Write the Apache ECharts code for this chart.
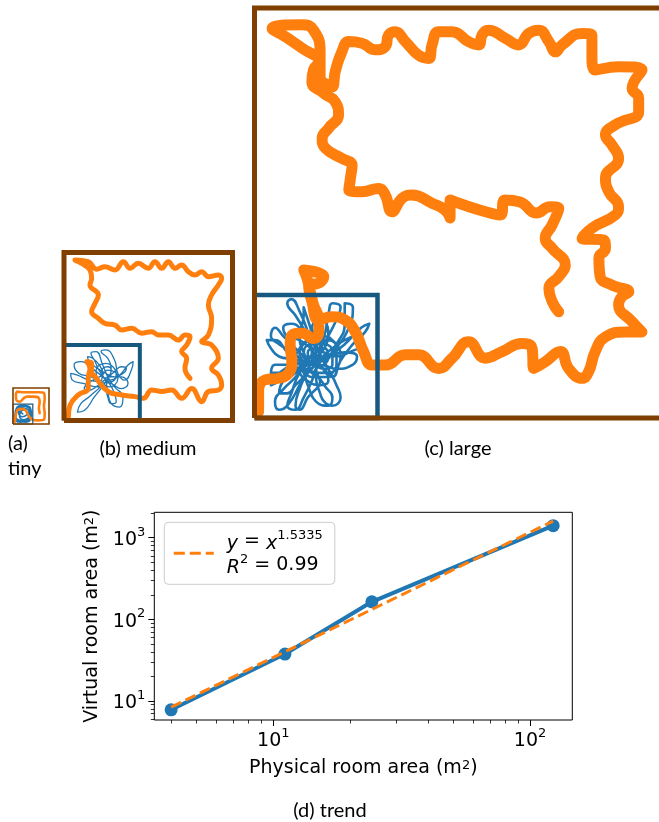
<!DOCTYPE html>
<html><head><meta charset="utf-8">
<script src="https://cdn.jsdelivr.net/npm/echarts@6/dist/echarts.min.js"></script>
<style>html,body{margin:0;padding:0;background:#fff}#c{width:659px;height:822px}</style>
</head><body><div id="c"></div>
<script>
// ---- room panels: coordinates in % of the virtual room side (0..100) ----
const roomCorners = [[0,0],[100,0],[100,100],[0,100],[0,0]];
const physicalSide = {large: 30, medium: 45, tiny: 55}; // physical room side, % of virtual side

const largeOrange = [[1.0,1.5],[1.0,6.4],[2.6,9.3],[5.9,9.7],[8.3,10.9],[9.1,13.7],[8.7,17.8],[9.1,20.2],[11.6,20.7],[14.4,19.4],[15.7,21.0],[15.7,23.9],[14.4,27.6],[13.6,30.8],[12.8,34.1],[12.0,36.1],[16.9,34.5],[15.7,32.9],[13.2,32.4],[14.0,28.4],[15.7,23.9],[18.9,24.7],[22.1,23.9],[24.6,21.0],[26.6,16.2],[28.7,12.9],[31.9,12.9],[36.8,15.4],[40.0,15.4],[44.9,12.1],[48.2,14.6],[52.2,18.6],[56.3,14.6],[60.4,16.2],[65.2,18.2],[67.7,17.0],[68.1,12.1],[70.9,13.7],[74.6,16.2],[76.6,12.1],[79.9,9.7],[81.5,11.3],[83.1,16.2],[85.6,19.8],[90.4,21.0],[94.5,21.0],[92.1,23.5],[88.8,27.6],[89.6,29.6],[91.3,30.8],[87.2,32.4],[84.3,34.5],[84.0,39.0],[85.6,41.4],[85.2,43.4],[79.9,43.8],[82.3,46.3],[88.0,49.5],[88.8,51.5],[86.4,55.2],[85.6,58.5],[88.8,63.3],[87.2,66.6],[85.6,69.0],[88.0,71.5],[93.7,74.7],[93.7,78.0],[92.1,80.4],[94.5,84.9],[88.8,85.7],[83.1,84.9],[82.3,88.5],[82.3,93.4],[79.9,93.8],[75.0,91.0],[73.4,89.3],[71.8,91.8],[69.3,94.6],[66.9,93.8],[64.4,91.0],[61.2,92.6],[57.1,94.6],[55.5,93.4],[54.7,91.0],[52.2,91.8],[48.2,94.2],[44.9,94.2],[43.3,91.0],[42.5,87.7],[40.0,88.5],[36.8,91.8],[34.3,94.2],[32.7,93.4],[31.9,90.6],[29.5,89.8],[26.2,91.4],[23.0,91.8],[21.3,89.3],[19.7,84.5],[18.9,80.8],[17.7,81.2],[16.0,83.2],[16.0,89.3],[14.4,94.6],[11.6,95.9],[4.3,95.0],[7.5,93.0],[11.6,90.2],[15.7,86.9],[14.4,84.9],[14.0,82.0],[16.9,79.2],[19.7,77.1],[20.5,73.9],[18.1,70.7],[16.5,68.2],[17.3,65.8],[21.3,63.3],[23.8,61.7],[23.4,58.5],[23.0,55.6],[26.2,55.2],[30.3,56.0],[31.9,54.4],[33.5,50.3],[36.0,53.6],[38.4,54.4],[43.3,52.4],[46.5,50.7],[47.7,48.8],[47.7,53.2],[50.9,52.0],[55.7,50.5],[59.9,49.5],[61.1,53.2],[64.8,52.7],[68.7,50.0],[72.1,51.5],[74.2,51.1],[72.6,47.1],[70.9,43.8],[72.6,41.4],[75.8,37.3],[74.2,34.5],[71.8,31.6],[72.6,28.4],[74.2,25.9]];

const largeBlue = [[13,14],[10,17],[7,20],[5,22],[4,20],[6,18],[9,16],[12,13],[10,10],[7,7],[5,4],[6,2],[8,3],[11,8],[13,12],[15,16],[13,20],[10,25],[8,28],[9,29],[11,26],[13,21],[14,17],[16,13],[19,10],[21,14],[24,18],[27,21],[28,23],[26,22],[22,18],[18,15],[14,13],[12,16],[11,20],[12,25],[12,27],[13,24],[15,18],[17,14],[20,18],[22,23],[22,28],[24,27],[23,22],[19,16],[15,12],[17,8],[19,5],[18,3],[15,4],[13,8],[12,11],[10,14],[6,15],[4,17],[3,19],[5,19],[8,16],[11,13],[14,11],[16,9],[13,5],[11,2],[10,3],[11,7],[13,11],[16,13],[20,12],[24,13],[25,15],[22,16],[17,15],[13,15],[9,13],[5,10],[4,8],[6,9],[9,11],[12,13],[15,14],[16,18],[14,22],[16,24],[18,21],[17,17],[14,14],[11,11],[9,6],[8,3],[10,2],[12,5],[14,9],[15,12],
  [17,13],[18,15],[17,17],[15,17],[14,15],[15,13],[17,12],[19,13],[19,16],[17,18],[14,18],[12,16],[13,13],[15,11],[18,11],[20,13],[20,17],[18,19],[15,19],[12,18],[11,15],[12,12],[14,10],[17,10],[19,11],[21,15],[19,19],[16,20],[13,19],[11,17],[10,14],[11,11],[13,9],[16,8],[18,9],[17,12],[14,13],[13,16],[15,17],[16,15],[14,12],[12,10],[10,8],[8,6],[6,6],[7,9],[10,11],[12,13],[14,16],[13,19],[11,22],[9,23],[7,22],[8,20],[11,19],[14,17],[17,16],[20,15],[23,16],[26,18],[25,20],[22,19],[19,17],[16,14],[15,10],[16,6],[17,4],[19,3],[21,5],[20,8],[18,12],[16,16],[18,20],[20,24],[21,27],[19,28],[18,25],[17,20],[15,16],[12,14],[8,13],[5,13],[4,11],[6,11],[10,13],[13,14]];

const mediumOrange = [[2.6,2.3],[3.6,9.2],[8.5,15.2],[14.4,19.1],[14.4,25.1],[15.4,31.1],[13.5,35.0],[16.4,34.0],[16.4,29.1],[18.4,26.1],[26.3,17.2],[34.2,15.2],[42.1,14.2],[47.1,13.2],[52.0,18.2],[58.0,17.2],[63.9,18.2],[69.8,13.2],[75.8,19.1],[81.7,11.2],[85.7,17.2],[91.6,18.2],[93.6,21.2],[91.6,27.1],[87.6,31.1],[91.6,37.0],[87.6,45.0],[81.7,47.0],[85.7,50.9],[87.6,60.8],[85.7,68.8],[87.6,74.7],[91.6,80.7],[93.6,84.6],[91.6,86.6],[85.7,85.6],[81.7,88.6],[77.7,86.6],[73.8,88.6],[69.8,92.6],[65.9,90.6],[61.9,94.5],[58.0,90.6],[54.0,94.5],[50.0,90.6],[44.1,93.6],[39.2,90.6],[35.2,94.5],[30.3,89.6],[24.3,91.5],[19.4,90.1],[14.4,94.5],[6.5,95.5],[10.5,93.5],[15.4,89.6],[16.4,84.6],[15.4,80.7],[20.4,74.7],[18.4,69.7],[16.4,64.8],[20.4,60.8],[24.3,57.8],[30.3,56.8],[34.2,53.9],[40.2,54.9],[46.1,51.9],[52.0,52.9],[56.0,50.9],[61.9,50.9],[67.9,47.9],[71.8,50.9],[74.8,49.9],[72.8,44.9],[69.8,41.0],[72.8,37.0],[71.8,31.1],[74.8,25.1]];

const mediumBlue = [[24,25],[18,30],[10,35],[6,33],[9,28],[16,26],[22,22],[16,15],[10,10],[8,5],[12,6],[18,14],[24,22],[28,30],[26,37],[22,41],[25,42],[30,36],[32,28],[36,24],[40,30],[41,35],[38,33],[33,27],[27,24],[22,28],[18,36],[16,40],[19,41],[23,33],[26,26],[30,20],[35,14],[33,8],[28,10],[26,17],[24,24],[20,20],[12,22],[5,24],[4,28],[8,27],[15,24],[22,23],[28,22],[34,19],[38,22],[34,26],[28,26],[24,25],
  [27,27],[28,30],[26,32],[23,31],[22,28],[24,25],[27,23],[30,24],[31,28],[29,32],[25,34],[21,33],[19,29],[20,25],[23,22],[27,20],[30,21],[32,25],[30,29],[26,30],[23,27],[22,23],[19,20],[15,18],[12,19],[14,22],[19,25],[23,28],[21,33],[17,37],[14,38],[15,35],[20,31],[25,28],[30,26],[35,28],[37,31],[34,32],[30,29],[26,25],[25,20],[26,14],[28,10],[31,11],[30,16],[27,22],[24,25]];

const tinyOrange = [[5,6],[8,25],[12,38],[22,42],[35,38],[45,20],[55,12],[70,10],[86,12],[88,30],[86,50],[88,70],[86,86],[70,88],[50,88],[30,88],[12,90],[8,80],[10,65],[20,62],[30,72],[40,76],[55,76],[70,74],[74,60],[72,45],[74,30]];

const tinyBlue = [[27,28],[10,40],[8,20],[25,10],[45,15],[50,35],[40,50],[20,48],[6,30],[15,8],[35,5],[50,20],[45,45],[28,52],[10,45],[5,15],[20,5],[42,8],[52,30],[35,48],[15,35],[25,20],[40,30],[30,40],[18,22],[30,12],[45,25],[38,42],[22,40]];

// ---- trend panel ----
const physicalArea = [4, 11.1, 24.2, 123];
const virtualArea = [7.8, 37.6, 164, 1403];
const fitPhysical = [4, 123];
const fitVirtual = [8.4, 1600];
const xMajorTicks = [10, 100];
const xMinorTicks = [4,5,6,7,8,9,20,30,40,50,60,70,80,90];
const yMajorTicks = [10, 100, 1000];
const yMinorTicks = [6,7,8,9,20,30,40,50,60,70,80,90,200,300,400,500,600,700,800,900,2000];
const fitExponent = '1.5335';
const fitR2 = '0.99';

const ORANGE = '#ff7f0e', BLUE = '#1f77b4', BOX_BLUE = '#17587e', BROWN = '#7f3f00';

function rect(side){ return [[0,0],[side,0],[side,side],[0,side],[0,0]]; }

const panels = [
  {grid:{left:254.5, top:8, width:410, height:410}, orange:largeOrange, blue:largeBlue, side:physicalSide.large, ow:11, bw:2.6, pbw:4.5, rbw:5, os:0.5},
  {grid:{left:64, top:252.5, width:168.5, height:168}, orange:mediumOrange, blue:mediumBlue, side:physicalSide.medium, ow:5, bw:1.3, pbw:4, rbw:5, os:0.45},
  {grid:{left:13, top:388, width:36, height:36}, orange:tinyOrange, blue:tinyBlue, side:physicalSide.tiny, ow:2.6, bw:1.6, pbw:1.2, rbw:1.6, os:0.3}
];

const grids = [], xAxes = [], yAxes = [], series = [];
panels.forEach((p, i) => {
  grids.push(Object.assign({containLabel:false, outerBoundsMode:'none'}, p.grid));
  xAxes.push({type:'value', gridIndex:i, min:0, max:100, show:false});
  yAxes.push({type:'value', gridIndex:i, min:0, max:100, show:false});
  const base = {type:'line', xAxisIndex:i, yAxisIndex:i, showSymbol:false, symbol:'none', clip:false, silent:true, animation:false};
  series.push(Object.assign({}, base, {data:p.blue, smooth:0.5, z:2, lineStyle:{color:BLUE, width:p.bw, cap:'round', join:'round'}}));
  series.push(Object.assign({}, base, {data:p.orange, smooth:p.os, z:3, lineStyle:{color:ORANGE, width:p.ow, cap:'round', join:'round'}}));
  series.push(Object.assign({}, base, {data:rect(p.side), z:4, lineStyle:{color:BOX_BLUE, width:p.pbw, join:'miter'}}));
  series.push(Object.assign({}, base, {data:roomCorners, z:5, lineStyle:{color:BROWN, width:p.rbw, join:'miter'}}));
});

// trend grid
const T = 3;
grids.push({left:154.3, top:512.3, width:418, height:207.7, outerBoundsMode:'none', show:true, borderColor:'#000', borderWidth:1, backgroundColor:'transparent'});
const supRich = {
  b:{fontFamily:'DejaVu Sans', fontSize:19, color:'#000', lineHeight:24, verticalAlign:'bottom'},
  s:{fontFamily:'DejaVu Sans', fontSize:13, color:'#000', lineHeight:14, verticalAlign:'top'},
  i:{fontFamily:'DejaVu Sans', fontStyle:'italic', fontSize:19, color:'#000', lineHeight:24, verticalAlign:'bottom'}
};
const powLabel = v => '{b|10}{s|' + Math.round(Math.log10(v)) + '}';
xAxes.push({type:'log', logBase:10, gridIndex:T, min:3.44, max:146, position:'bottom',
  axisLine:{show:false}, splitLine:{show:false},
  axisTick:{show:true, customValues:xMajorTicks, length:6, lineStyle:{color:'#000', width:1}},
  axisLabel:{customValues:xMajorTicks, formatter:powLabel, margin:7, rich:supRich},
  name:'Physical room area (m{s|2})', nameLocation:'middle', nameGap:39,
  nameTextStyle:{fontFamily:'DejaVu Sans', fontSize:19, color:'#000', rich:supRich}
});
xAxes.push({type:'log', logBase:10, gridIndex:T, min:3.44, max:146, position:'bottom',
  axisLine:{show:false}, splitLine:{show:false}, axisLabel:{show:false},
  axisTick:{show:true, customValues:xMinorTicks, length:3.5, lineStyle:{color:'#000', width:0.8}}
});
yAxes.push({type:'log', logBase:10, gridIndex:T, min:5.85, max:2047, position:'left',
  axisLine:{show:false}, splitLine:{show:false},
  axisTick:{show:true, customValues:yMajorTicks, length:6, lineStyle:{color:'#000', width:1}},
  axisLabel:{customValues:yMajorTicks, formatter:powLabel, margin:9, rich:supRich},
  name:'Virtual room area (m{s|2})', nameLocation:'middle', nameGap:49,
  nameTextStyle:{fontFamily:'DejaVu Sans', fontSize:19, color:'#000', rich:supRich}
});
yAxes.push({type:'log', logBase:10, gridIndex:T, min:5.85, max:2047, position:'left',
  axisLine:{show:false}, splitLine:{show:false}, axisLabel:{show:false},
  axisTick:{show:true, customValues:yMinorTicks, length:3.5, lineStyle:{color:'#000', width:0.8}}
});

series.push({type:'line', name:'data', xAxisIndex:4, yAxisIndex:4, animation:false, z:10,
  data:physicalArea.map((x,k)=>[x, virtualArea[k]]),
  symbol:'circle', symbolSize:13, showSymbol:true, itemStyle:{color:BLUE},
  lineStyle:{color:BLUE, width:4}
});
series.push({type:'line', name:'fit', xAxisIndex:4, yAxisIndex:4, animation:false, z:11,
  data:fitPhysical.map((x,k)=>[x, fitVirtual[k]]),
  symbol:'none', showSymbol:false,
  lineStyle:{color:ORANGE, width:3, type:[11,5]}
});

const chart = echarts.init(document.getElementById('c'), null, {renderer:'canvas'});
chart.setOption({
  animation:false,
  backgroundColor:'#fff',
  grid:grids, xAxis:xAxes, yAxis:yAxes, series:series,
  legend:{data:['fit'], left:164.3, top:522.3, orient:'vertical',
    padding:[7,12,7,8], itemWidth:40, itemHeight:14, itemGap:0,
    itemStyle:{opacity:0},
    lineStyle:{color:ORANGE, width:3, type:[11,5], opacity:1},
    backgroundColor:'rgba(255,255,255,0.8)', borderColor:'#cccccc', borderWidth:1, borderRadius:4,
    formatter:() => '{i|y} = {i|x}{s|' + fitExponent + '}\n{i|R}{s|2} = ' + fitR2,
    textStyle:{fontFamily:'DejaVu Sans', fontSize:19, color:'#000', padding:[0,0,0,8], rich:supRich}
  },
  graphic:[
    {type:'text', x:8, y:444, style:{text:'(a)', font:'20px Lato', fill:'#000', align:'left', verticalAlign:'middle'}},
    {type:'text', x:8, y:469, style:{text:'tiny', font:'20px Lato', fill:'#000', align:'left', verticalAlign:'middle'}},
    {type:'text', x:148, y:449, style:{text:'(b) medium', font:'20px Lato', fill:'#000', align:'center', verticalAlign:'middle'}},
    {type:'text', x:458, y:449, style:{text:'(c) large', font:'20px Lato', fill:'#000', align:'center', verticalAlign:'middle'}},
    {type:'text', x:330, y:811, style:{text:'(d) trend', font:'20px Lato', fill:'#000', align:'center', verticalAlign:'middle'}}
  ]
});
</script></body></html>
